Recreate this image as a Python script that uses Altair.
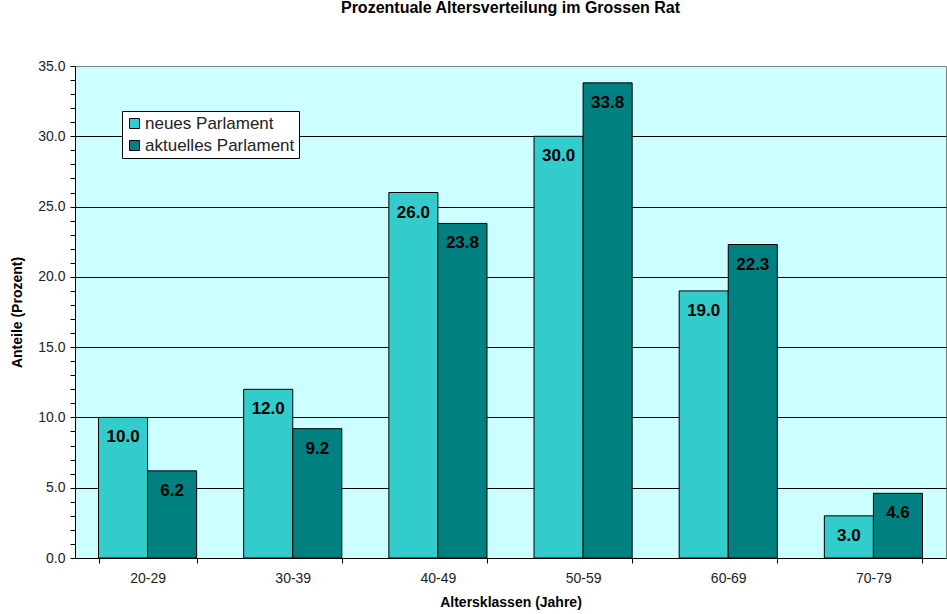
import altair as alt
import pandas as pd

categories = ["20-29", "30-39", "40-49", "50-59", "60-69", "70-79"]
neues = [10.0, 12.0, 26.0, 30.0, 19.0, 3.0]
aktuelles = [6.2, 9.2, 23.8, 33.8, 22.3, 4.6]
series = ["neues Parlament", "aktuelles Parlament"]
colors = ["#33CCCC", "#008080"]
y_ticks = list(range(0, 36))

rows = []
for c, n, a in zip(categories, neues, aktuelles):
    rows.append({"Altersklasse": c, "Serie": series[0], "Wert": n})
    rows.append({"Altersklasse": c, "Serie": series[1], "Wert": a})
df = pd.DataFrame(rows)

FONT = "Liberation Sans"

x = alt.X("Altersklasse:N", sort=categories, title="Altersklassen (Jahre)",
          scale=alt.Scale(paddingInner=0.324, paddingOuter=0.162),
          axis=alt.Axis(labelAngle=0, tickBand="extent", tickSize=5, tickColor="black",
                        domainColor="black", labelFontSize=14, labelColor="#222222",
                        labelPadding=8, titleFontSize=14, titleFontWeight="bold",
                        titlePadding=10, labelFont=FONT, titleFont=FONT))
xoff = alt.XOffset("Serie:N", sort=series, scale=alt.Scale(paddingInner=0, paddingOuter=0))
y = alt.Y("Wert:Q", title="Anteile (Prozent)",
          scale=alt.Scale(domain=[0, 35], nice=False),
          axis=alt.Axis(values=y_ticks, labelOverlap=False, labelFlush=False,
                        labelExpr="datum.value % 5 === 0 ? format(datum.value, '.1f') : ''",
                        grid=True, gridColor="black",
                        gridOpacity={"condition": {"test": "datum.value % 5 === 0 && datum.value < 35 && datum.value > 0", "value": 1}, "value": 0},
                        tickSize=5, tickColor="black", tickOpacity=1, domainColor="black",
                        labelFontSize=14, labelColor="#222222", labelPadding=5,
                        titleFontSize=14, titleFontWeight="bold", titlePadding=13,
                        labelFont=FONT, titleFont=FONT))

base = alt.Chart(df).encode(x=x, xOffset=xoff, y=y)

bars = base.mark_bar(stroke="black", strokeWidth=1).encode(
    color=alt.Color("Serie:N", sort=series,
                    scale=alt.Scale(domain=series, range=colors),
                    legend=alt.Legend(title=None, orient="none", legendX=47, legendY=45,
                                      fillColor="white", strokeColor="black", padding=4,
                                      symbolType="square", symbolSize=100,
                                      symbolStrokeColor="black", symbolStrokeWidth=1,
                                      labelFontSize=17, labelFont=FONT, labelColor="#222222",
                                      labelOffset=2, rowPadding=4, symbolOpacity=1)),
)

labels = base.mark_text(dy=20, baseline="middle", fontWeight="bold",
                        fontSize=17, font=FONT, color="black").encode(
    text=alt.Text("Wert:Q", format=".1f"),
)

chart = alt.layer(bars, labels).properties(
    width=871, height=492,
    title=alt.TitleParams("Prozentuale Altersverteilung im Grossen Rat", fontSize=16,
                          fontWeight="bold", font=FONT, offset=43, anchor="middle"),
    autosize=alt.AutoSizeParams(type="none"),
    padding={"left": 75, "top": 66, "right": 1, "bottom": 56},
    background="white",
).configure_view(fill="#CCFFFF", stroke="#808080")

chart.save("out.html", embed_options={"renderer": "svg", "actions": False})
